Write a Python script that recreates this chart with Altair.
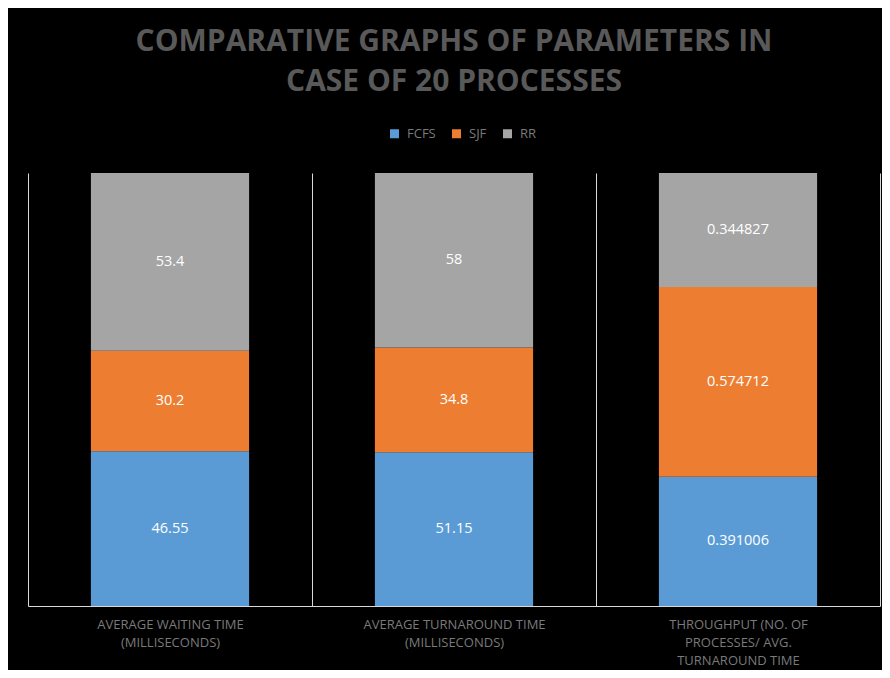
import json
import altair as alt
import pandas as pd

categories = [
    "AVERAGE WAITING TIME (MILLISECONDS)",
    "AVERAGE TURNAROUND TIME (MILLISECONDS)",
    "THROUGHPUT (NO. OF PROCESSES/ AVG. TURNAROUND TIME",
]
category_lines = [
    ["AVERAGE WAITING TIME", "(MILLISECONDS)"],
    ["AVERAGE TURNAROUND TIME", "(MILLISECONDS)"],
    ["THROUGHPUT (NO. OF", "PROCESSES/ AVG.", "TURNAROUND TIME"],
]
series = ["FCFS", "SJF", "RR"]
fcfs = [46.55, 51.15, 0.391006]
sjf = [30.2, 34.8, 0.574712]
rr = [53.4, 58, 0.344827]
value_labels = {
    "FCFS": ["46.55", "51.15", "0.391006"],
    "SJF": ["30.2", "34.8", "0.574712"],
    "RR": ["53.4", "58", "0.344827"],
}
colors = ["#5B9BD5", "#ED7D31", "#A5A5A5"]

rows = []
for si, (s, vals) in enumerate(zip(series, [fcfs, sjf, rr])):
    for ci, c in enumerate(categories):
        rows.append({"category": c, "series": s, "order": si, "value": vals[ci],
                     "label": value_labels[s][ci]})
df = pd.DataFrame(rows)

label_expr = " : ".join(
    f"datum.value === {json.dumps(c)} ? {json.dumps(l)}" for c, l in zip(categories, category_lines)
) + " : datum.label"

base = alt.Chart(df).transform_stack(
    stack="value", groupby=["category"], sort=[alt.SortField("order")],
    as_=["y0", "y1"], offset="normalize"
).transform_calculate(mid="(datum.y0 + datum.y1) / 2")

xenc = alt.X(
    "category:N", sort=categories, title=None,
    scale=alt.Scale(paddingInner=0, paddingOuter=0),
    axis=alt.Axis(
        labelAngle=0, ticks=False, domain=True, domainColor="#d9d9d9", domainWidth=1,
        grid=True, gridColor="#d9d9d9", gridWidth=1, tickBand="extent",
        labelExpr=label_expr, labelFont="Open Sans", labelFontSize=13,
        labelColor="#7a7a7a", labelLineHeight=18, labelPadding=12, labelLimit=400,
        labelBaseline="top",
    ),
)
yscale = alt.Scale(domain=[0, 1], nice=False, zero=True)

bars = base.mark_bar(width=alt.RelativeBandSize(0.557)).encode(
    x=xenc,
    y=alt.Y("y0:Q", scale=yscale, axis=None),
    y2="y1:Q",
    color=alt.Color(
        "series:N", sort=series,
        scale=alt.Scale(domain=series, range=colors),
        legend=alt.Legend(
            orient="none", legendX=360, legendY=-46, direction="horizontal",
            title=None, symbolType="square", symbolSize=81, symbolStrokeWidth=0,
            labelFont="Open Sans", labelFontSize=13, labelColor="#7a7a7a",
            columnPadding=14, labelOffset=6,
        ),
    ),
)

texts = base.mark_text(font="Open Sans", fontSize=14.5, color="white").encode(
    x=alt.X("category:N", sort=categories),
    y=alt.Y("mid:Q", scale=yscale),
    text="label:N",
)

chart = alt.layer(bars, texts).properties(
    width=852, height=433,
    padding={"left": 20, "top": 165, "right": 2, "bottom": 64},
    autosize=alt.AutoSizeParams(type="none"),
    background="black",
    title=alt.TitleParams(
        text=["COMPARATIVE GRAPHS OF PARAMETERS IN", "CASE OF 20 PROCESSES"],
        font="Open Sans", fontSize=30, fontWeight="bold", color="#595959",
        anchor="middle", offset=30, lineHeight=40,
    ),
).configure_view(stroke=None)

chart.save("out.html", embed_options={"renderer": "svg", "actions": False})
